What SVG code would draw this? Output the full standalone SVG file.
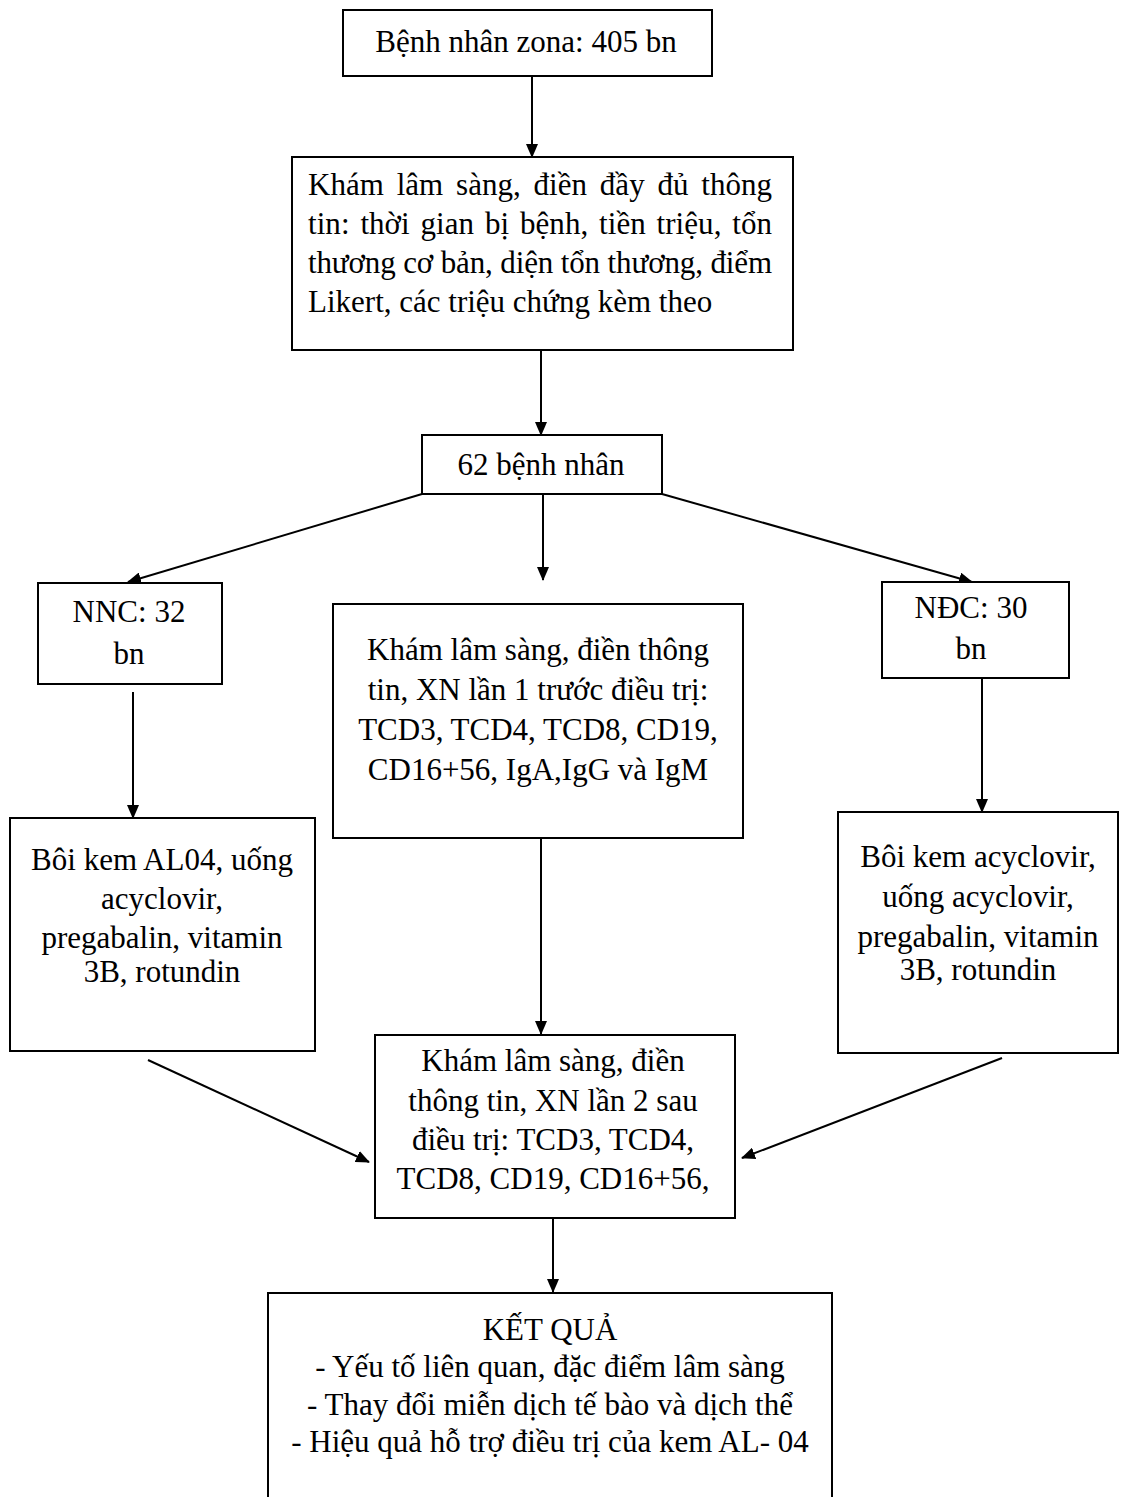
<svg xmlns="http://www.w3.org/2000/svg" width="1121" height="1497" viewBox="0 0 1121 1497">
<style>
.box{fill:#fff;stroke:#000;stroke-width:2}
.t{font-family:"Liberation Serif","Times New Roman",serif;font-size:31px;fill:#000}
.c{text-anchor:middle}
.ln{stroke:#000;stroke-width:2;fill:none}
</style>
<defs>
<marker id="ah" markerUnits="userSpaceOnUse" markerWidth="14" markerHeight="12" refX="13" refY="6" orient="auto">
<path d="M0,0 L14,6 L0,12 z" fill="#000"/>
</marker>
</defs>
<rect width="1121" height="1497" fill="#fff"/>
<g id="connectors">
<line class="ln" x1="532" y1="76" x2="532" y2="157" marker-end="url(#ah)"/>
<line class="ln" x1="541" y1="350" x2="541" y2="435" marker-end="url(#ah)"/>
<line class="ln" x1="422" y1="494" x2="128" y2="582" marker-end="url(#ah)"/>
<line class="ln" x1="543" y1="494" x2="543" y2="580" marker-end="url(#ah)"/>
<line class="ln" x1="662" y1="494" x2="972" y2="582" marker-end="url(#ah)"/>
<line class="ln" x1="133" y1="692" x2="133" y2="818" marker-end="url(#ah)"/>
<line class="ln" x1="982" y1="678" x2="982" y2="812" marker-end="url(#ah)"/>
<line class="ln" x1="541" y1="838" x2="541" y2="1034" marker-end="url(#ah)"/>
<line class="ln" x1="148" y1="1060" x2="369" y2="1162" marker-end="url(#ah)"/>
<line class="ln" x1="1002" y1="1058" x2="742" y2="1158" marker-end="url(#ah)"/>
<line class="ln" x1="553" y1="1218" x2="553" y2="1292" marker-end="url(#ah)"/>
</g>
<g id="n1">
<rect class="box" x="343" y="10" width="369" height="66"/>
<text class="t c" x="526" y="52">Bệnh nhân zona: 405 bn</text>
</g>
<g id="n2">
<rect class="box" x="292" y="157" width="501" height="193"/>
<text class="t" x="308" y="195" word-spacing="5" textLength="464" lengthAdjust="spacing">Khám lâm sàng, điền đầy đủ thông</text>
<text class="t" x="308" y="234" word-spacing="3" textLength="464" lengthAdjust="spacing">tin: thời gian bị bệnh, tiền triệu, tổn</text>
<text class="t" x="308" y="273" textLength="464" lengthAdjust="spacing">thương cơ bản, diện tổn thương, điểm</text>
<text class="t" x="308" y="312">Likert, các triệu chứng kèm theo</text>
</g>
<g id="n3">
<rect class="box" x="422" y="435" width="240" height="59"/>
<text class="t c" x="541" y="475">62 bệnh nhân</text>
</g>
<g id="n4">
<rect class="box" x="38" y="583" width="184" height="101"/>
<text class="t c" x="129" y="622">NNC: 32</text>
<text class="t c" x="129" y="664">bn</text>
</g>
<g id="n5">
<rect class="box" x="882" y="582" width="187" height="96"/>
<text class="t c" x="971" y="618">NĐC: 30</text>
<text class="t c" x="971" y="659">bn</text>
</g>
<g id="n6">
<rect class="box" x="333" y="604" width="410" height="234"/>
<text class="t c" x="538" y="660">Khám lâm sàng, điền thông</text>
<text class="t c" x="538" y="700">tin, XN lần 1 trước điều trị:</text>
<text class="t c" x="538" y="740">TCD3, TCD4, TCD8, CD19,</text>
<text class="t c" x="538" y="780">CD16+56, IgA,IgG và IgM</text>
</g>
<g id="n7">
<rect class="box" x="10" y="818" width="305" height="233"/>
<text class="t c" x="162" y="870">Bôi kem AL04, uống</text>
<text class="t c" x="162" y="909">acyclovir,</text>
<text class="t c" x="162" y="948">pregabalin, vitamin</text>
<text class="t c" x="162" y="982">3B, rotundin</text>
</g>
<g id="n8">
<rect class="box" x="838" y="812" width="280" height="241"/>
<text class="t c" x="978" y="867">Bôi kem acyclovir,</text>
<text class="t c" x="978" y="907">uống acyclovir,</text>
<text class="t c" x="978" y="947">pregabalin, vitamin</text>
<text class="t c" x="978" y="980">3B, rotundin</text>
</g>
<g id="n9">
<rect class="box" x="375" y="1035" width="360" height="183"/>
<text class="t c" x="553" y="1071">Khám lâm sàng, điền</text>
<text class="t c" x="553" y="1111">thông tin, XN lần 2 sau</text>
<text class="t c" x="553" y="1150">điều trị: TCD3, TCD4,</text>
<text class="t c" x="553" y="1189">TCD8, CD19, CD16+56,</text>
</g>
<g id="n10">
<rect class="box" x="268" y="1293" width="564" height="220"/>
<text class="t c" x="550" y="1340">KẾT QUẢ</text>
<text class="t c" x="550" y="1377">- Yếu tố liên quan, đặc điểm lâm sàng</text>
<text class="t c" x="550" y="1415">- Thay đổi miễn dịch tế bào và dịch thể</text>
<text class="t c" x="550" y="1452">- Hiệu quả hỗ trợ điều trị của kem AL- 04</text>
</g>
</svg>
